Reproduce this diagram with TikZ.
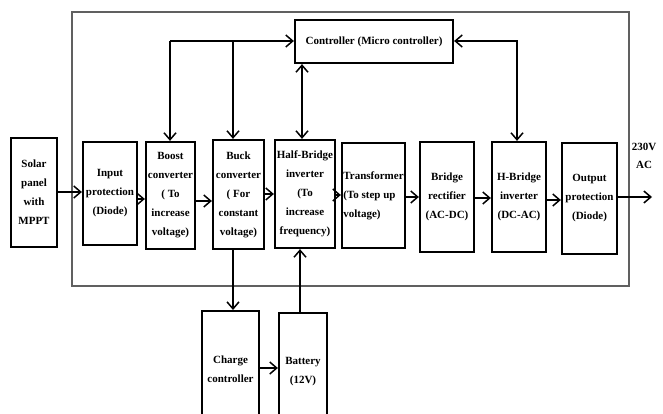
\documentclass[tikz,border=0pt]{standalone}
\usepackage{fontspec}
\setmainfont{Liberation Serif}
\usetikzlibrary{arrows.meta}
\begin{document}
\begin{tikzpicture}[x=1pt,y=-1pt,
  blk/.style={draw=black,line width=2.2pt,rectangle,inner sep=1pt,align=center,
    font=\fontsize{11}{19}\selectfont\bfseries},
  arr/.style={line width=1.6pt,-{Straight Barb[length=7pt,width=12pt,line width=1.5pt]}},
  darr/.style={line width=1.6pt,{Straight Barb[length=7pt,width=12pt,line width=1.5pt]}-{Straight Barb[length=7pt,width=12pt,line width=1.5pt]}}]
\useasboundingbox (0,0) rectangle (663,414);
\clip (0,0) rectangle (663,414);
% frame
\draw[gray!75!black,line width=1.8pt] (72,12) rectangle (629,286);
% main blocks
\node[blk,minimum width=46pt,minimum height=109pt] (solar) at (34,192.5) {Solar\\panel\\with\\MPPT};
\node[blk,minimum width=54pt,minimum height=103pt] (inp) at (110,193.5) {Input\\protection\\(Diode)};
\node[blk,minimum width=49pt,minimum height=107pt] (boost) at (170.5,195.5) {Boost\\converter\\( To\\increase\\voltage)};
\node[blk,minimum width=51pt,minimum height=109pt] (buck) at (238.5,194.5) {Buck\\converter\\( For\\constant\\voltage)};
\node[blk,minimum width=60pt,minimum height=108pt] (half) at (305,194) {Half-Bridge\\inverter\\(To\\increase\\frequency)};
\node[blk,minimum width=63pt,minimum height=105pt,align=left] (trans) at (373.5,195.5) {Transformer\\(To step up\\voltage)};
\node[blk,minimum width=54pt,minimum height=110pt] (rect) at (447,197) {Bridge\\rectifier\\(AC-DC)};
\node[blk,minimum width=54pt,minimum height=110pt] (hb) at (519,197) {H-Bridge\\inverter\\(DC-AC)};
\node[blk,minimum width=55pt,minimum height=111pt] (outp) at (589.5,198.5) {Output\\protection\\(Diode)};
\node[blk,minimum width=158pt,minimum height=43pt] (ctrl) at (374,41.5) {Controller (Micro controller)};
\node[blk,minimum width=57pt,minimum height=116pt,anchor=north] (charge) at (230.5,310) {Charge\\controller};
\node[blk,minimum width=48pt,minimum height=116pt,anchor=north] (bat) at (303,312) {Battery\\(12V)};
\node[font=\fontsize{11}{18}\selectfont\bfseries,align=center,inner sep=0pt] (acl) at (644,156) {230V\\AC};
\coordinate (acend) at (652,197);
% series arrows
\draw[arr] (solar.east |- 0,192) -- (inp.west |- 0,192);
\draw[arr] (inp.east |- 0,199) -- (boost.west |- 0,199);
\draw[arr] (boost.east |- 0,201) -- (buck.west |- 0,201);
\draw[arr] (buck.east |- 0,194) -- (half.west |- 0,194);
\draw[arr] (half.east |- 0,195) -- (trans.west |- 0,195);
\draw[arr] (trans.east |- 0,197) -- (rect.west |- 0,197);
\draw[arr] (rect.east |- 0,198) -- (hb.west |- 0,198);
\draw[arr] (hb.east |- 0,200) -- (outp.west |- 0,200);
\draw[arr] (outp.east |- acend) -- (acend);
% controller links
\coordinate (tl) at (170,41);
\coordinate (tm) at (233,41);
\draw[arr] (tl) -- (ctrl.west |- tl);
\draw[arr] (tl) -- (tl |- boost.north);
\draw[arr] (tm) -- (tm |- buck.north);
\draw[darr] (302,0 |- ctrl.south) -- (302,0 |- half.north);
\coordinate (tr) at (517,41);
\draw[darr] (ctrl.east |- tr) -- (tr) -- (tr |- hb.north);
% battery links
\draw[arr] (233,0 |- buck.south) -- (233,0 |- charge.north);
\draw[arr] (300,0 |- bat.north) -- (300,0 |- half.south);
\draw[arr] (charge.east |- 0,368) -- (bat.west |- 0,368);
\end{tikzpicture}
\end{document}
